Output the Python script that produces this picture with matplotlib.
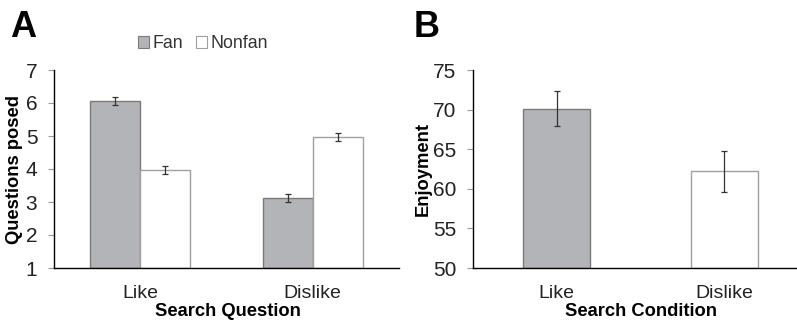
import numpy as np
import matplotlib.pyplot as plt
from matplotlib.patches import Patch

plt.rcParams['font.family'] = ['Liberation Sans', 'DejaVu Sans']

# Panel A: questions posed by search question and group
questions = ['Like', 'Dislike']
fan_means = [6.06, 3.12]
fan_err = [0.13, 0.13]
nonfan_means = [3.97, 4.97]
nonfan_err = [0.13, 0.13]

# Panel B: enjoyment by search condition
conditions = ['Like', 'Dislike']
enjoy_means = [70.1, 62.2]
enjoy_err = [2.2, 2.6]

FAN_FILL = '#b3b4b8'
FAN_EDGE = '#7a7a7a'
NON_FILL = 'white'
NON_EDGE = '#a0a0a0'
ERR_KW = dict(ecolor='#333333', elinewidth=0.9, capsize=2.2, capthick=0.9)

fig = plt.figure(figsize=(7.97, 3.21), dpi=100)


def style_axes(ax):
    ax.spines['top'].set_visible(False)
    ax.spines['right'].set_visible(False)
    ax.spines['left'].set_linewidth(1.0)
    ax.spines['bottom'].set_linewidth(1.0)
    ax.tick_params(axis='y', direction='out', length=4, color='#9a9a9a',
                   labelsize=15, pad=8, labelcolor='#222222')
    ax.tick_params(axis='x', length=0, labelsize=14, pad=12,
                   labelcolor='#222222')


# --- A ---
axA = fig.add_axes([54 / 797, 53 / 321, 345 / 797, 198 / 321])
x = np.arange(len(questions))
w = 0.29
axA.bar(x - w / 2, np.array(fan_means) - 1, w, bottom=1, color=FAN_FILL,
        edgecolor=FAN_EDGE, linewidth=1.0, yerr=fan_err, error_kw=ERR_KW)
axA.bar(x + w / 2, np.array(nonfan_means) - 1, w, bottom=1, color=NON_FILL,
        edgecolor=NON_EDGE, linewidth=1.0, yerr=nonfan_err, error_kw=ERR_KW)
axA.set_xlim(-0.5, 1.5)
axA.set_ylim(1, 7)
axA.set_yticks(range(1, 8))
axA.set_xticks(x)
axA.set_xticklabels(questions)
style_axes(axA)
axA.set_ylabel('Questions posed', fontsize=13.2, fontweight='bold')
axA.yaxis.set_label_coords(-0.09, 0.5)
axA.set_xlabel('Search Question', fontsize=13.2, fontweight='bold')
axA.xaxis.set_label_coords(0.505, -0.178)

handles = [Patch(facecolor=FAN_FILL, edgecolor=FAN_EDGE, linewidth=0.8, label='Fan'),
           Patch(facecolor=NON_FILL, edgecolor=NON_EDGE, linewidth=0.8, label='Nonfan')]
fig.legend(handles=handles, loc='center', bbox_to_anchor=(203 / 797, 1 - 44 / 321),
           ncol=2, frameon=False, fontsize=12.8, handlelength=0.65, handleheight=0.65,
           handletextpad=0.2, columnspacing=0.7, labelcolor='#333333')

fig.text(10 / 797, 1 - 10 / 321, 'A', fontsize=26, fontweight='bold', va='top', ha='left')

# --- B ---
axB = fig.add_axes([473 / 797, 53 / 321, 325 / 797, 198 / 321])
xb = np.arange(len(conditions))
wb = 0.40
colors = [FAN_FILL, NON_FILL]
edges = [FAN_EDGE, NON_EDGE]
axB.bar(xb, np.array(enjoy_means) - 50, wb, bottom=50, color=colors,
        edgecolor=edges, linewidth=1.0, yerr=enjoy_err, error_kw=ERR_KW)
axB.set_xlim(-0.5, 1.44)
axB.set_ylim(50, 75)
axB.set_yticks(range(50, 76, 5))
axB.set_xticks(xb)
axB.set_xticklabels(conditions)
style_axes(axB)
axB.set_ylabel('Enjoyment', fontsize=13.2, fontweight='bold')
axB.yaxis.set_label_coords(-0.127, 0.5)
axB.set_xlabel('Search Condition', fontsize=13.2, fontweight='bold')
axB.xaxis.set_label_coords(0.517, -0.178)

fig.text(414 / 797, 1 - 10 / 321, 'B', fontsize=26, fontweight='bold', va='top', ha='left')

fig.savefig('out.png', dpi=100)
